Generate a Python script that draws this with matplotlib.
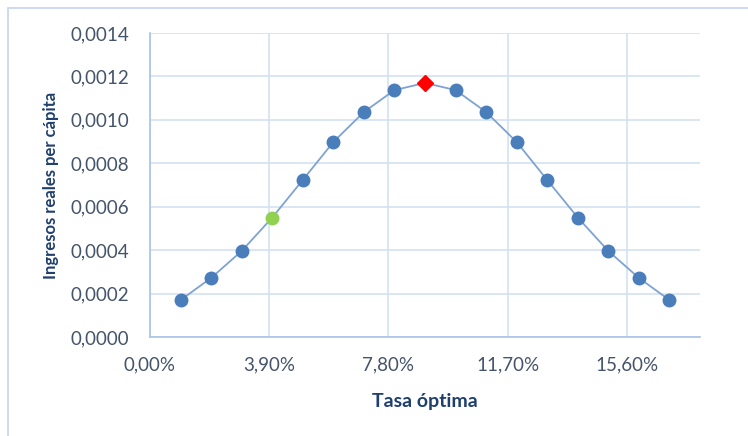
import matplotlib.pyplot as plt
from matplotlib.ticker import FuncFormatter, MultipleLocator
from matplotlib.patches import Rectangle

# Data
tasa = [0.01, 0.02, 0.03, 0.04, 0.05, 0.06, 0.07, 0.08, 0.09,
        0.10, 0.11, 0.12, 0.13, 0.14, 0.15, 0.16, 0.17]
ingresos = [0.000170, 0.000272, 0.000396, 0.000550, 0.000723, 0.000898,
            0.001036, 0.001137, 0.001170, 0.001137, 0.001036, 0.000898,
            0.000723, 0.000550, 0.000396, 0.000272, 0.000170]
idx_verde = 3   # punto resaltado en verde
idx_rojo = 8    # máximo (rombo rojo)

plt.rcParams['font.family'] = ['Lato', 'DejaVu Sans']

AZUL = '#4a7ebb'
LINEA = '#7ea3d3'
GRID = '#d4e1f2'
TEXTO = '#44546a'
TITULO = '#1f3f6e'

fig = plt.figure(figsize=(7.48, 4.36), dpi=100)
fig.patches.append(Rectangle((8 / 748, -0.1), 1.2, 1 - 8 / 436 + 0.1,
                             transform=fig.transFigure, fill=False,
                             edgecolor='#c5d6ec', linewidth=1.2))
ax = fig.add_axes([150 / 748, 1 - 337 / 436, 550 / 748, 304 / 436])

ax.plot(tasa, ingresos, color=LINEA, linewidth=1.3, zorder=2)
normales = [i for i in range(len(tasa)) if i not in (idx_verde, idx_rojo)]
ax.plot([tasa[i] for i in normales], [ingresos[i] for i in normales],
        'o', color=AZUL, markersize=9, zorder=3)
ax.plot(tasa[idx_verde], ingresos[idx_verde], 'o', color='#92d050',
        markersize=9, zorder=3)
ax.plot(tasa[idx_rojo], ingresos[idx_rojo], 'D', color='#ff0000',
        markersize=8, zorder=3)

ax.set_xlim(0, 0.18)
ax.set_ylim(0, 0.0014)
ax.xaxis.set_major_locator(MultipleLocator(0.039))
ax.yaxis.set_major_locator(MultipleLocator(0.0002))
ax.xaxis.set_major_formatter(FuncFormatter(lambda v, p: f"{v * 100:.2f}%".replace('.', ',')))
ax.yaxis.set_major_formatter(FuncFormatter(lambda v, p: f"{v:.4f}".replace('.', ',')))

ax.grid(True, color=GRID, linewidth=1.2)
ax.set_axisbelow(True)
for s in ('top', 'right'):
    ax.spines[s].set_visible(False)
for s in ('left', 'bottom'):
    ax.spines[s].set_color('#a9c3e6')
    ax.spines[s].set_linewidth(1.2)
ax.tick_params(length=0, colors=TEXTO, labelsize=13.5)
ax.tick_params(axis='x', pad=14)
ax.tick_params(axis='y', pad=15)

ax.set_xlabel('Tasa óptima', fontsize=14, fontweight='bold', color=TITULO, labelpad=14)
ax.set_ylabel('Ingresos reales per cápita', fontsize=12, fontweight='bold',
              color=TITULO, labelpad=8)

fig.savefig('out.png', dpi=100)
